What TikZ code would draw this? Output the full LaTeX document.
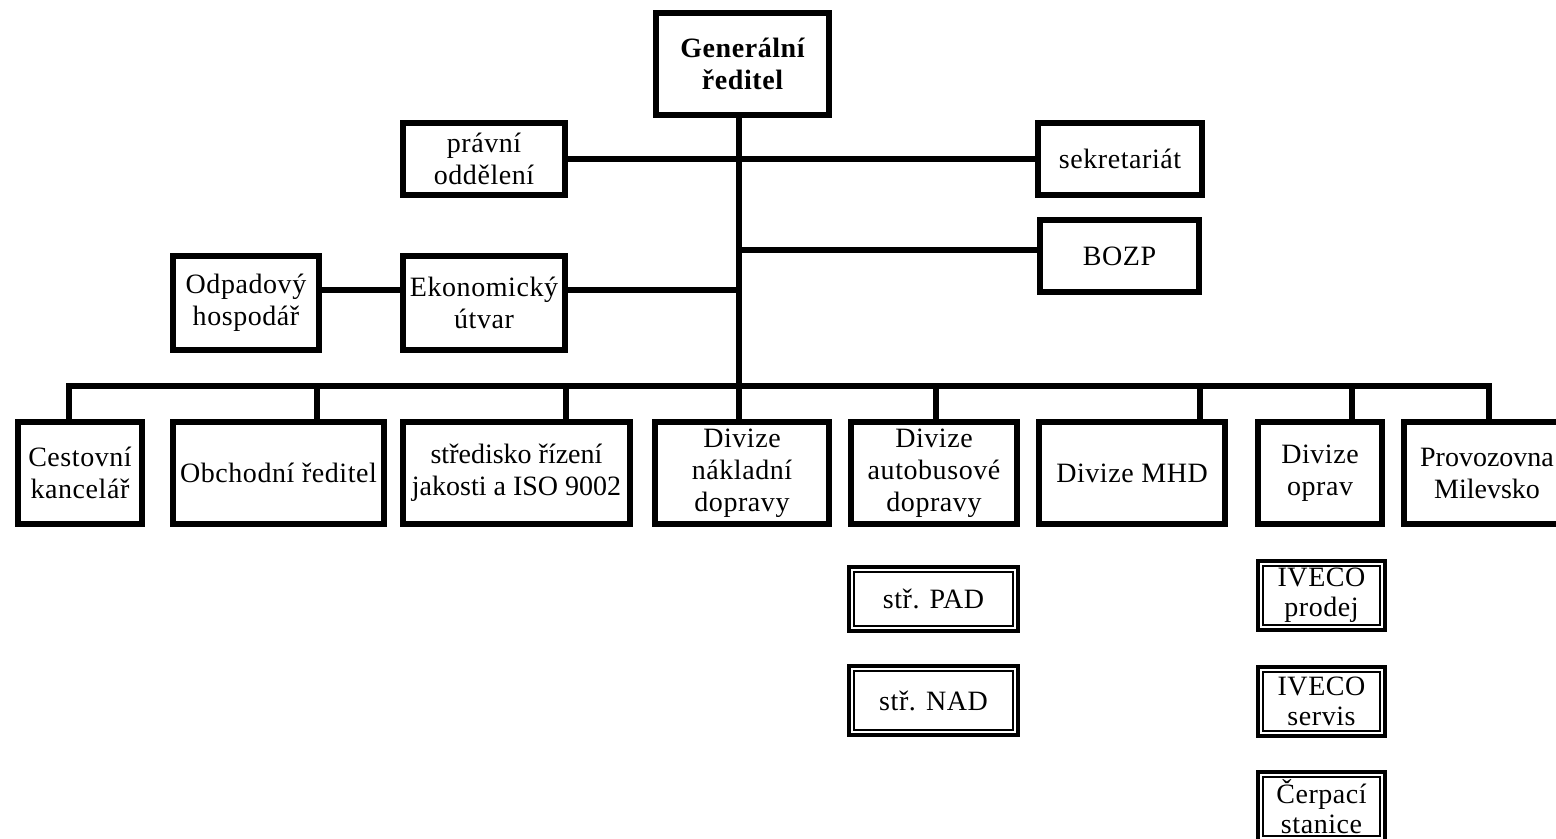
\documentclass[tikz,border=0pt]{standalone}
\usepackage{fontspec}
\setmainfont{Liberation Serif}[LetterSpace=2.0]
\begin{document}
\begin{tikzpicture}[x=0.5pt,y=-0.5pt,
  box/.style={draw, line width=3pt, inner sep=0pt, align=center,
    font=\fontsize{14}{16}\selectfont},
  dbox/.style={draw, line width=2pt, inner sep=0pt, align=center,
    font=\fontsize{14}{15}\selectfont},
  conn/.style={line width=3pt}]
\useasboundingbox (0,0) rectangle (1556,839);
\clip (0,0) rectangle (1556,839);
% top part
\node[box, font=\fontsize{14}{16}\selectfont\bfseries, minimum width=86.5pt, minimum height=51pt] (gen) at (742.5,64) {Generální\\ředitel};
\node[box, minimum width=81pt, minimum height=36pt] (pravni) at (484,159) {právní\\oddělení};
\node[box, minimum width=82pt, minimum height=36pt] (sekr) at (1120,159) {sekretariát};
\node[box, minimum width=79.5pt, minimum height=36pt] (bozp) at (1119.5,256) {BOZP};
\node[box, minimum width=81pt, minimum height=47pt] (ekon) at (484,303) {Ekonomický\\útvar};
\node[box, minimum width=73pt, minimum height=47pt] (odpad) at (246,303) {Odpadový\\hospodář};
% lower row
\node[box, minimum width=62pt, minimum height=51pt] (cest) at (80,473) {Cestovní\\kancelář};
\node[box, minimum width=105.5pt, minimum height=51pt] (obch) at (278.5,473) {Obchodní ředitel};
\node[box, minimum width=113.5pt, minimum height=51pt, font=\fontsize{14}{16}\selectfont\addfontfeatures{LetterSpace=0}] (stred) at (516.5,473) {středisko řízení\\jakosti a ISO 9002};
\node[box, minimum width=87pt, minimum height=51pt] (nakl) at (742,473) {Divize\\nákladní\\dopravy};
\node[box, minimum width=83pt, minimum height=51pt] (auto) at (934,473) {Divize\\autobusové\\dopravy};
\node[box, minimum width=93pt, minimum height=51pt] (mhd) at (1132,473) {Divize MHD};
\node[box, minimum width=62pt, minimum height=51pt] (oprav) at (1320,473) {Divize\\oprav};
\node[box, minimum width=83pt, minimum height=51pt, font=\fontsize{14}{16}\selectfont\addfontfeatures{LetterSpace=0}] (prov) at (1487,473) {Provozovna\\Milevsko};
% double boxes
\node[dbox, minimum width=84.5pt, minimum height=32pt] (pad) at (933.5,599) {stř. PAD};
\node[dbox, minimum width=84.5pt, minimum height=34.5pt] (nad) at (933.5,700.5) {stř. NAD};
\node[dbox, minimum width=63.5pt, minimum height=34.5pt] (prodej) at (1321.5,595.5) {IVECO\\prodej};
\node[dbox, minimum width=63.5pt, minimum height=34.5pt] (servis) at (1321.5,701.5) {IVECO\\servis};
\node[dbox, minimum width=63.5pt, minimum height=34.5pt] (cerp) at (1321.5,806.5) {Čerpací\\stanice};
\foreach \n in {pad,nad,prodej,servis,cerp}
  \draw[line width=0.75pt] ([shift={(3.4pt,3.4pt)}]\n.south west) rectangle ([shift={(-3.4pt,-3.4pt)}]\n.north east);
% coordinates
\coordinate (bus) at (739,386);
\coordinate (tr) at (739,0);
\coordinate (l1) at (0,159);
\coordinate (l2) at (0,250);
\coordinate (l3) at (0,290);
\coordinate (d1) at (68.5,0);
\coordinate (d2) at (317,0);
\coordinate (d3) at (566,0);
\coordinate (d5) at (936,0);
\coordinate (d6) at (1200,0);
\coordinate (d7) at (1352,0);
\coordinate (d8) at (1489,0);
% connectors
\draw[conn] (gen.south -| tr) -- (bus);
\draw[conn] (pravni.east |- l1) -- (sekr.west |- l1);
\draw[conn] (tr |- l2) -- (bozp.west |- l2);
\draw[conn] (ekon.east |- l3) -- (tr |- l3);
\draw[conn] (odpad.east |- l3) -- (ekon.west |- l3);
\draw[conn] (cest.north -| d1) |- (bus) -| (prov.north -| d8);
\draw[conn] (bus) -- (nakl.north -| bus);
\draw[conn] (bus -| d2) -- (obch.north -| d2);
\draw[conn] (bus -| d3) -- (stred.north -| d3);
\draw[conn] (bus -| d5) -- (auto.north -| d5);
\draw[conn] (bus -| d6) -- (mhd.north -| d6);
\draw[conn] (bus -| d7) -- (oprav.north -| d7);
\end{tikzpicture}
\end{document}
